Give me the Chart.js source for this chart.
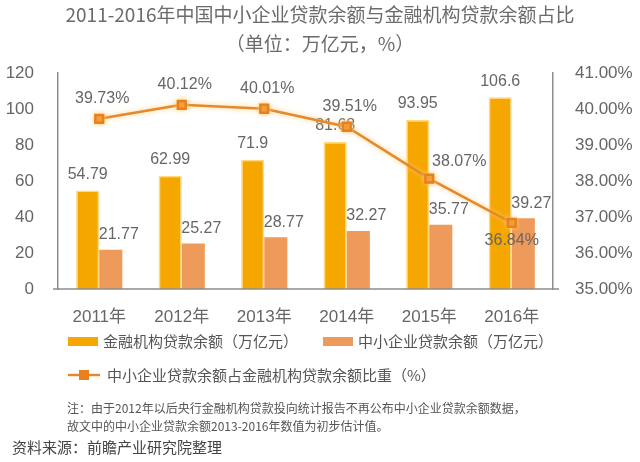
<!DOCTYPE html>
<html>
<head>
<meta charset="utf-8">
<script src="https://cdn.jsdelivr.net/npm/chart.js@4"></script>
<style>
html,body{margin:0;padding:0;background:#fff;}
#wrap{width:640px;height:462px;position:relative;}
</style>
</head>
<body>
<div id="wrap"><canvas id="c" width="640" height="462"></canvas></div>
<script>
// ---- data ----
const categories = ['2011年','2012年','2013年','2014年','2015年','2016年'];
const financeLoans = [54.79, 62.99, 71.9, 81.68, 93.95, 106.6];   // 金融机构贷款余额（万亿元）
const smeLoans = [21.77, 25.27, 28.77, 32.27, 35.77, 39.27];      // 中小企业贷款余额（万亿元）
const smeShare = [39.73, 40.12, 40.01, 39.51, 38.07, 36.84];      // 占比（%）
const leftTicks = [0, 20, 40, 60, 80, 100, 120];
const rightTicks = [35, 36, 37, 38, 39, 40, 41];
const seriesNames = ['金融机构贷款余额（万亿元）', '中小企业贷款余额（万亿元）', '中小企业贷款余额占金融机构贷款余额比重（%）'];
const titleLines = ['2011-2016年中国中小企业贷款余额与金融机构贷款余额占比', '（单位：万亿元，%）'];
const noteLines = ['注：由于2012年以后央行金融机构贷款投向统计报告不再公布中小企业贷款余额数据，', '故文中的中小企业贷款余额2013-2016年数值为初步估计值。'];
const sourceText = '资料来源：前瞻产业研究院整理';

// ---- styles ----
const FONT = "'Liberation Sans', 'Noto Sans CJK SC', sans-serif";
const CJK = "'Noto Sans CJK SC', 'Liberation Sans', sans-serif";
const GOLD = '#F5A700';
const ORANGE = '#EE9A5A';
const LINE = '#E48A2E';
const MARK = '#E8801C';
const AXIS = '#8c8c8c';
const TXT = '#666666';
// label placement for line points (style, not data)
const linePlace = ['up','up','up','up','upright','down'];

const labelPlugin = {
  id: 'labels',
  beforeDatasetDraw(chart, args) {
    if (args.index === 2) {
      const ctx = chart.ctx;
      ctx.save();
      ctx.shadowColor = 'rgba(255,200,110,0.9)';
      ctx.shadowBlur = 5;
    }
  },
  afterDatasetDraw(chart, args) {
    const ctx = chart.ctx;
    if (args.index === 2) { ctx.restore(); }
    const meta = args.meta;
    ctx.save();
    ctx.font = '16px ' + FONT;
    ctx.fillStyle = TXT;
    ctx.textAlign = 'center';
    ctx.textBaseline = 'middle';
    const ds = chart.data.datasets[args.index];
    meta.data.forEach((el, i) => {
      const v = ds.data[i];
      if (args.index === 0) {
        ctx.fillText(String(v), el.x, el.y - 16);
      } else if (args.index === 1) {
        ctx.fillText(v.toFixed(2), el.x + 8, el.y - 15);
      } else {
        const t = v.toFixed(2) + '%';
        const p = linePlace[i];
        if (p === 'up') ctx.fillText(t, el.x + 3, el.y - 20);
        else if (p === 'upright') ctx.fillText(t, el.x + 30, el.y - 17);
        else ctx.fillText(t, el.x, el.y + 18);
      }
    });
    ctx.restore();
  },
  afterDraw(chart) {
    const ctx = chart.ctx;
    const ca = chart.chartArea;
    ctx.save();
    // extended baseline / tick crosses
    ctx.strokeStyle = AXIS;
    ctx.lineWidth = 1.5;
    ctx.beginPath();
    ctx.moveTo(ca.left - 5, ca.bottom);
    ctx.lineTo(ca.right + 6, ca.bottom);
    ctx.stroke();
    // legend row 1
    ctx.textBaseline = 'middle';
    ctx.textAlign = 'left';
    ctx.font = '15px ' + CJK;
    ctx.fillStyle = GOLD;
    ctx.fillRect(68, 337, 30, 9);
    ctx.fillStyle = '#555';
    ctx.fillText(seriesNames[0], 103, 341);
    ctx.fillStyle = ORANGE;
    ctx.fillRect(323, 337, 30, 9);
    ctx.fillStyle = '#555';
    ctx.fillText(seriesNames[1], 358, 341);
    // legend row 2
    ctx.strokeStyle = LINE;
    ctx.lineWidth = 2.5;
    ctx.beginPath();
    ctx.moveTo(68, 375);
    ctx.lineTo(100, 375);
    ctx.stroke();
    ctx.fillStyle = MARK;
    ctx.fillRect(79, 370, 10, 10);
    ctx.fillStyle = '#555';
    ctx.fillText(seriesNames[2], 107, 375);
    // notes
    ctx.font = '12px ' + CJK;
    ctx.fillStyle = '#555';
    ctx.fillText(noteLines[0], 67, 408);
    ctx.fillText(noteLines[1], 67, 426);
    // source
    ctx.font = '15px ' + CJK;
    ctx.fillStyle = '#444';
    ctx.fillText(sourceText, 12, 447);
    ctx.restore();
  }
};

new Chart(document.getElementById('c'), {
  data: {
    labels: categories,
    datasets: [
      { type: 'bar', label: seriesNames[0], data: financeLoans, yAxisID: 'y',
        backgroundColor: GOLD, borderColor: 'rgba(255,214,120,0.95)', borderWidth: 1.5,
        categoryPercentage: 0.56, barPercentage: 1, order: 1 },
      { type: 'bar', label: seriesNames[1], data: smeLoans, yAxisID: 'y',
        backgroundColor: ORANGE, borderWidth: 0,
        categoryPercentage: 0.56, barPercentage: 1, order: 1 },
      { type: 'line', label: seriesNames[2], data: smeShare, yAxisID: 'y1',
        borderColor: LINE, borderWidth: 2.5, tension: 0,
        pointStyle: 'rect', pointRadius: 5.5, pointBackgroundColor: MARK, pointBorderColor: MARK,
        order: 0 }
    ]
  },
  options: {
    responsive: false,
    devicePixelRatio: 1,
    animation: false,
    layout: { padding: { left: 0, right: 0, top: 0, bottom: 133 } },
    plugins: {
      legend: { display: false },
      tooltip: { enabled: false },
      title: {
        display: true,
        text: titleLines,
        color: '#6b6b6b',
        font: { family: CJK, size: 19, weight: 'normal', lineHeight: 1.53 },
        padding: { top: 0, bottom: 15 }
      }
    },
    scales: {
      x: {
        grid: { display: false },
        border: { display: false },
        ticks: { color: TXT, font: { family: FONT, size: 17 }, padding: 10 },
        afterFit(s) { s.height = 40; }
      },
      y: {
        position: 'left',
        min: 0, max: 120,
        afterBuildTicks(s) { s.ticks = leftTicks.map(v => ({ value: v })); },
        grid: { display: false },
        border: { display: true, color: AXIS, width: 1.5 },
        ticks: { color: TXT, font: { family: FONT, size: 17 }, padding: 16 },
        afterFit(s) { s.width = 58; }
      },
      y1: {
        position: 'right',
        min: 35, max: 41,
        afterBuildTicks(s) { s.ticks = rightTicks.map(v => ({ value: v })); },
        grid: { display: false },
        border: { display: true, color: AXIS, width: 1.5 },
        ticks: { color: TXT, font: { family: FONT, size: 17 }, padding: 14,
                 callback: v => Number(v).toFixed(2) + '%' },
        afterFit(s) { s.width = 87; }
      }
    }
  },
  plugins: [labelPlugin]
});
</script>
</body>
</html>
